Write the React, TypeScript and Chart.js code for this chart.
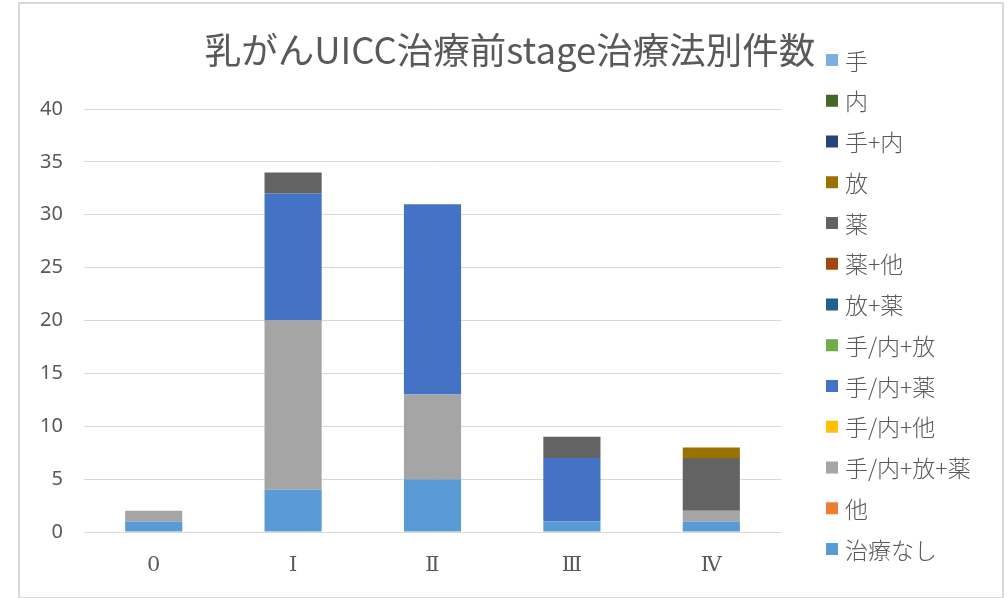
import React, { useEffect, useRef } from "react";
import { Chart, registerables } from "chart.js";

Chart.register(...registerables);

const chartTitle = "乳がんUICC治療前stage治療法別件数";
const categories = ["0", "Ⅰ", "Ⅱ", "Ⅲ", "Ⅳ"];
const yTicks = [0, 5, 10, 15, 20, 25, 30, 35, 40];

// series (bottom of stack first)
const noTreatment = [1, 4, 5, 1, 1]; // 治療なし
const other = [0, 0, 0, 0, 0]; // 他
const surgEndoRadDrug = [1, 16, 8, 0, 1]; // 手/内+放+薬
const surgEndoOther = [0, 0, 0, 0, 0]; // 手/内+他
const surgEndoDrug = [0, 12, 18, 6, 0]; // 手/内+薬
const surgEndoRad = [0, 0, 0, 0, 0]; // 手/内+放
const radDrug = [0, 0, 0, 0, 0]; // 放+薬
const drugOther = [0, 0, 0, 0, 0]; // 薬+他
const drug = [0, 2, 0, 2, 5]; // 薬
const radiation = [0, 0, 0, 0, 1]; // 放
const surgEndo = [0, 0, 0, 0, 0]; // 手+内
const endoscopy = [0, 0, 0, 0, 0]; // 内
const surgery = [0, 0, 0, 0, 0]; // 手

const seriesNames = [
  "治療なし", "他", "手/内+放+薬", "手/内+他", "手/内+薬", "手/内+放",
  "放+薬", "薬+他", "薬", "放", "手+内", "内", "手",
];
const seriesValues = [
  noTreatment, other, surgEndoRadDrug, surgEndoOther, surgEndoDrug, surgEndoRad,
  radDrug, drugOther, drug, radiation, surgEndo, endoscopy, surgery,
];
const seriesColors = [
  "#5B9BD5", "#ED7D31", "#A5A5A5", "#FFC000", "#4472C4", "#70AD47",
  "#255E91", "#9E480E", "#636363", "#997300", "#264478", "#43682B", "#7CAFDD",
];

const textColor = "#595959";
const gridColor = "#d9d9d9";
const cjkFont = '"Noto Sans CJK JP", "Noto Sans", sans-serif';

const overlayPlugin = {
  id: "overlay",
  afterDraw(chart: any) {
    const ctx = chart.ctx as CanvasRenderingContext2D;
    ctx.save();
    // title
    ctx.fillStyle = textColor;
    ctx.font = `36.5px ${cjkFont}`;
    ctx.textAlign = "center";
    ctx.textBaseline = "middle";
    ctx.fillText(chartTitle, 510, 50);
    // legend (reverse order: top of stack first)
    ctx.font = `300 23px ${cjkFont}`;
    ctx.textAlign = "left";
    const ds = chart.data.datasets;
    const n = ds.length;
    for (let i = 0; i < n; i++) {
      const d = ds[n - 1 - i];
      const y = 60 + i * 40.75;
      ctx.fillStyle = d.backgroundColor;
      ctx.fillRect(826, y - 6, 12, 12);
      ctx.fillStyle = textColor;
      ctx.fillText(d.label, 845, y + 1);
    }
    ctx.restore();
  },
};

export default function App() {
  const ref = useRef<HTMLCanvasElement>(null);
  useEffect(() => {
    if (!ref.current) return;
    const chart = new Chart(ref.current, {
      type: "bar",
      data: {
        labels: categories,
        datasets: seriesNames.map((name, i) => ({
          label: name,
          data: seriesValues[i],
          backgroundColor: seriesColors[i],
          borderWidth: 0,
          categoryPercentage: 1,
          barPercentage: 0.41,
        })),
      },
      options: {
        responsive: false,
        animation: false,
        layout: { padding: { left: 0, top: 109, right: 227, bottom: 16 } },
        plugins: {
          legend: { display: false },
          title: { display: false },
          tooltip: { enabled: false },
        },
        scales: {
          x: {
            stacked: true,
            grid: { display: false, drawTicks: false },
            border: { display: true, color: gridColor, width: 1 },
            ticks: {
              color: textColor,
              padding: 21,
              font: { size: 21, family: '"DejaVu Serif", "Liberation Serif", serif' },
            },
            afterFit: (s: any) => { s.height = 50; },
          },
          y: {
            stacked: true,
            min: 0,
            max: 40,
            afterBuildTicks: (s: any) => { s.ticks = yTicks.map((v) => ({ value: v })); },
            grid: { color: gridColor, drawTicks: false },
            border: { display: false },
            ticks: {
              color: textColor,
              padding: 21,
              font: { size: 20, family: '"Noto Sans", sans-serif' },
            },
            afterFit: (s: any) => { s.width = 84; },
          },
        },
      },
      plugins: [overlayPlugin],
    });
    return () => chart.destroy();
  }, []);

  return (
    <div style={{ position: "fixed", left: 0, top: 0, width: 1008, height: 598, background: "#fff" }}>
      <div
        style={{
          position: "absolute", left: 18, top: 2, width: 982, height: 593,
          border: "2px solid #d9d9d9",
        }}
      />
      <canvas ref={ref} width={1008} height={598} style={{ position: "absolute", left: 0, top: 0 }} />
    </div>
  );
}
